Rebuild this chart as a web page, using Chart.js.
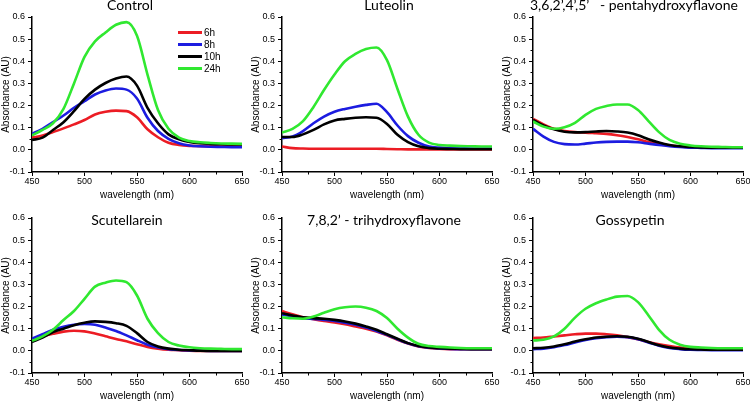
<!DOCTYPE html>
<html>
<head>
<meta charset="utf-8">
<script src="https://cdn.jsdelivr.net/npm/chart.js@4.4.1/dist/chart.umd.min.js"></script>
<style>
  body { margin: 0; background: #fff; width: 750px; height: 402px; position: relative; overflow: hidden; }
  canvas { position: absolute; }
  .ttl { position: absolute; font-family: Lato, sans-serif; font-size: 14px; line-height: 14px; color: #000;
         white-space: pre; transform: translateX(-50%); }
  #legend { position: absolute; left: 178px; top: 26px; font-family: "Liberation Sans", Arial, sans-serif; font-size: 10px; }
  .li { height: 12px; display: flex; align-items: center; }
  .sw { width: 24px; height: 3px; margin-right: 2px; }
</style>
</head>
<body>
<script>
// wavelengths (nm) sampled every 10 nm
const wavelengths = [450,460,470,480,490,500,510,520,530,540,550,560,570,580,590,600,610,620,630,640,650];
const timeLabels = ['6h', '8h', '10h', '24h'];
const lineColors = ['#ec1c24', '#1c1ce0', '#000000', '#30e830'];
const drawOrder = [3, 2, 1, 0]; // green on top, red at the bottom
const yTicks = [-0.1, 0, 0.1, 0.2, 0.3, 0.4, 0.5, 0.6];
const xTicks = [450, 500, 550, 600, 650];

// Control
const control6h  = [0.055,0.065,0.08,0.097,0.115,0.135,0.16,0.172,0.177,0.175,0.147,0.093,0.057,0.032,0.022,0.018,0.017,0.016,0.015,0.015,0.015];
const control8h  = [0.072,0.095,0.125,0.155,0.19,0.22,0.25,0.268,0.277,0.272,0.232,0.145,0.085,0.05,0.03,0.02,0.016,0.014,0.013,0.012,0.012];
const control10h = [0.045,0.055,0.09,0.125,0.175,0.23,0.272,0.302,0.322,0.331,0.29,0.19,0.12,0.07,0.048,0.036,0.03,0.027,0.025,0.024,0.024];
const control24h = [0.065,0.09,0.12,0.185,0.30,0.42,0.49,0.53,0.565,0.577,0.515,0.34,0.18,0.095,0.055,0.04,0.034,0.031,0.029,0.028,0.027];

// Luteolin
const luteolin6h  = [0.015,0.008,0.006,0.005,0.005,0.005,0.005,0.005,0.005,0.005,0.004,0.003,0.002,0.002,0.002,0.002,0.002,0.002,0.002,0.002,0.002];
const luteolin8h  = [0.053,0.06,0.085,0.12,0.15,0.172,0.185,0.195,0.203,0.208,0.17,0.11,0.062,0.032,0.015,0.01,0.008,0.007,0.006,0.006,0.006];
const luteolin10h = [0.058,0.058,0.07,0.09,0.115,0.133,0.14,0.145,0.147,0.145,0.117,0.068,0.035,0.016,0.008,0.005,0.004,0.003,0.003,0.003,0.003];
const luteolin24h = [0.078,0.095,0.13,0.194,0.27,0.34,0.40,0.433,0.455,0.462,0.405,0.275,0.15,0.068,0.033,0.022,0.019,0.017,0.016,0.015,0.015];

// 3,6,2',4',5'-pentahydroxyflavone
const penta6h  = [0.14,0.115,0.095,0.085,0.08,0.078,0.075,0.072,0.066,0.058,0.048,0.035,0.025,0.02,0.015,0.012,0.011,0.01,0.01,0.01,0.01];
const penta8h  = [0.095,0.06,0.036,0.026,0.024,0.028,0.033,0.036,0.037,0.037,0.034,0.028,0.022,0.017,0.013,0.01,0.009,0.008,0.008,0.008,0.008];
const penta10h = [0.135,0.11,0.093,0.082,0.079,0.08,0.083,0.085,0.083,0.078,0.066,0.048,0.033,0.022,0.016,0.013,0.011,0.01,0.01,0.01,0.01];
const penta24h = [0.128,0.105,0.095,0.102,0.122,0.158,0.185,0.198,0.205,0.205,0.18,0.13,0.08,0.045,0.028,0.02,0.016,0.014,0.013,0.012,0.012];

// Scutellarein
const scut6h  = [0.048,0.065,0.077,0.087,0.091,0.088,0.078,0.066,0.054,0.043,0.03,0.018,0.01,0.005,0.003,0.001,0,0,0,0,0];
const scut8h  = [0.055,0.075,0.095,0.109,0.118,0.121,0.118,0.105,0.09,0.07,0.048,0.028,0.015,0.008,0.004,0.002,0.001,0,0,0,0];
const scut10h = [0.04,0.06,0.085,0.10,0.116,0.127,0.133,0.131,0.125,0.113,0.08,0.04,0.02,0.01,0.005,0.003,0.001,0,0,0,0];
const scut24h = [0.045,0.065,0.095,0.139,0.18,0.235,0.29,0.308,0.318,0.31,0.25,0.145,0.08,0.04,0.024,0.016,0.012,0.01,0.009,0.008,0.008];

// 7,8,2'-trihydroxyflavone
const tri6h  = [0.18,0.165,0.152,0.143,0.135,0.128,0.12,0.11,0.1,0.087,0.07,0.05,0.033,0.02,0.013,0.01,0.008,0.007,0.007,0.007,0.007];
const tri8h  = [0.165,0.155,0.148,0.144,0.14,0.135,0.127,0.118,0.105,0.09,0.072,0.052,0.034,0.021,0.014,0.011,0.009,0.008,0.008,0.008,0.008];
const tri10h = [0.17,0.16,0.152,0.148,0.145,0.14,0.133,0.123,0.11,0.095,0.075,0.055,0.035,0.022,0.015,0.012,0.01,0.009,0.008,0.008,0.008];
const tri24h = [0.152,0.147,0.145,0.155,0.172,0.188,0.197,0.2,0.195,0.18,0.148,0.1,0.06,0.032,0.022,0.018,0.015,0.013,0.012,0.012,0.012];

// Gossypetin
const goss6h  = [0.058,0.06,0.065,0.07,0.075,0.078,0.078,0.075,0.07,0.062,0.052,0.04,0.03,0.022,0.015,0.01,0.008,0.007,0.006,0.006,0.006];
const goss8h  = [0.008,0.01,0.016,0.026,0.038,0.049,0.057,0.062,0.064,0.062,0.053,0.038,0.023,0.013,0.008,0.005,0.004,0.003,0.003,0.003,0.003];
const goss10h = [0.012,0.014,0.02,0.03,0.042,0.052,0.06,0.064,0.066,0.064,0.055,0.04,0.025,0.015,0.01,0.007,0.006,0.005,0.005,0.005,0.005];
const goss24h = [0.047,0.05,0.065,0.1,0.15,0.19,0.215,0.232,0.245,0.248,0.22,0.16,0.095,0.05,0.028,0.018,0.015,0.013,0.012,0.012,0.012];

// panel placement: [title, series, canvas left, canvas top, title x, title y]
const panels = [
  ['Control', [control6h, control8h, control10h, control24h], 0, 0, 130, -2],
  ['Luteolin', [luteolin6h, luteolin8h, luteolin10h, luteolin24h], 250, 0, 389, -2],
  ['3,6,2\u2019,4\u2019,5\u2019   - pentahydroxyflavone', [penta6h, penta8h, penta10h, penta24h], 501, 0, 634, -2],
  ['Scutellarein', [scut6h, scut8h, scut10h, scut24h], 0, 201, 127, 213],
  ['7,8,2\u2019 - trihydroxyflavone', [tri6h, tri8h, tri10h, tri24h], 250, 201, 384, 213],
  ['Gossypetin', [goss6h, goss8h, goss10h, goss24h], 501, 201, 630, 213]
];

const tickFont = { family: 'Liberation Sans', size: 9 };
const titleFont = { family: 'Liberation Sans', size: 10 };

// small minor ticks halfway between the labelled ones
const minorTicks = {
  id: 'minorTicks',
  afterDraw(chart) {
    const ctx = chart.ctx, x = chart.scales.x, y = chart.scales.y;
    ctx.save();
    ctx.strokeStyle = '#000';
    ctx.lineWidth = 1;
    ctx.beginPath();
    for (let i = 0; i < yTicks.length - 1; i++) {
      const py = Math.round(y.getPixelForValue((yTicks[i] + yTicks[i + 1]) / 2)) + 0.5;
      ctx.moveTo(y.right - 2.5, py);
      ctx.lineTo(y.right, py);
    }
    for (let i = 0; i < xTicks.length - 1; i++) {
      const px = Math.round(x.getPixelForValue((xTicks[i] + xTicks[i + 1]) / 2)) + 0.5;
      ctx.moveTo(px, x.top);
      ctx.lineTo(px, x.top + 2.5);
    }
    ctx.stroke();
    ctx.restore();
  }
};

panels.forEach(([title, series, left, top, tx, ty]) => {
  const canvas = document.createElement('canvas');
  canvas.width = 250;
  canvas.height = 201;
  canvas.style.left = left + 'px';
  canvas.style.top = top + 'px';
  document.body.appendChild(canvas);

  new Chart(canvas, {
    type: 'line',
    data: {
      datasets: series.map((s, i) => ({
        label: timeLabels[i],
        data: wavelengths.map((w, j) => ({ x: w, y: s[j] })),
        borderColor: lineColors[i],
        borderWidth: 2.6,
        pointRadius: 0,
        cubicInterpolationMode: 'monotone',
        fill: false,
        order: drawOrder[i]
      }))
    },
    options: {
      responsive: false,
      animation: false,
      events: [],
      layout: { padding: { top: 17, right: 8, left: 0, bottom: 0 } },
      plugins: { legend: { display: false }, tooltip: { enabled: false } },
      scales: {
        x: {
          type: 'linear', min: 450, max: 650,
          afterBuildTicks: sc => { sc.ticks = xTicks.map(v => ({ value: v })); },
          afterFit: sc => { sc.height = 29; },
          border: { display: true, color: '#000', width: 1.5 },
          grid: { drawOnChartArea: false, drawTicks: true, tickLength: 4, color: '#000' },
          ticks: { font: tickFont, color: '#000', padding: 0, maxRotation: 0 },
          title: { display: true, text: 'wavelength (nm)', font: titleFont, color: '#000', padding: 0 }
        },
        y: {
          min: -0.1, max: 0.6,
          afterBuildTicks: sc => { sc.ticks = yTicks.map(v => ({ value: v })); },
          afterFit: sc => { sc.width = 32; },
          border: { display: true, color: '#000', width: 1.5 },
          grid: { drawOnChartArea: false, drawTicks: true, tickLength: 4, color: '#000' },
          ticks: { font: tickFont, color: '#000', padding: 3, callback: v => v.toFixed(1) },
          title: { display: true, text: 'Absorbance (AU)', font: titleFont, color: '#000', padding: 0 }
        }
      }
    },
    plugins: [minorTicks]
  });

  const t = document.createElement('div');
  t.className = 'ttl';
  t.style.left = tx + 'px';
  t.style.top = ty + 'px';
  t.textContent = title;
  document.body.appendChild(t);
});

// legend of the Control panel
const legend = document.createElement('div');
legend.id = 'legend';
legend.innerHTML = timeLabels.map((lab, i) =>
  '<div class="li"><span class="sw" style="background:' + lineColors[i] + '"></span>' + lab + '</div>').join('');
document.body.appendChild(legend);
</script>
</body>
</html>
